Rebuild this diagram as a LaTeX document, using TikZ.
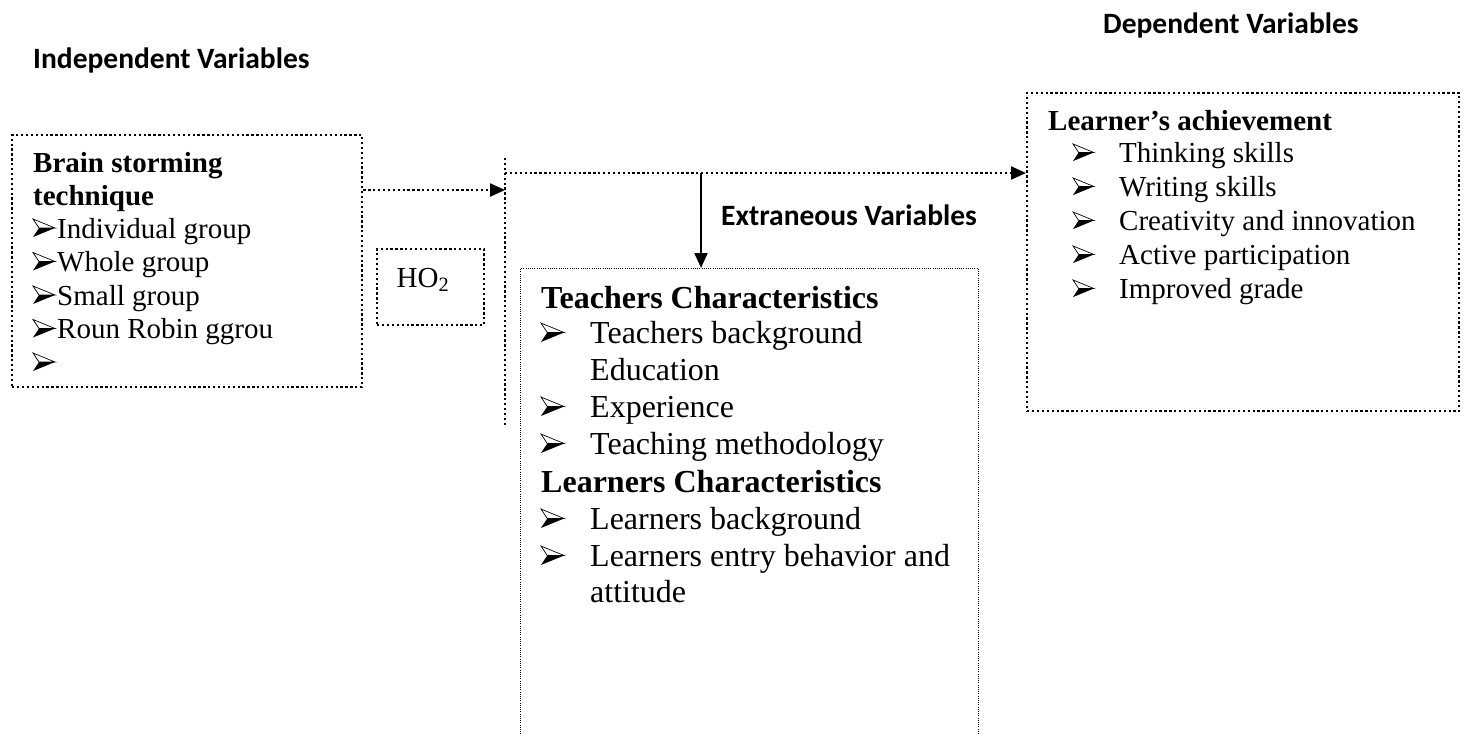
\documentclass[tikz,border=0pt]{standalone}
\usepackage{fontspec}
\setmainfont{Liberation Serif}
\newfontfamily\calib{Carlito}
\usetikzlibrary{arrows.meta}
\begin{document}
\begin{tikzpicture}[x=1pt,y=-1pt,
  thickdot/.style={line width=2.3pt, dash pattern=on 2.3pt off 2.6pt},
  finedot/.style={line width=1pt, dash pattern=on 1pt off 1.2pt},
  hdr/.style={font=\calib\bfseries\fontsize{29.5}{34}\selectfont, inner sep=0pt, anchor=base west},
  sm/.style={font=\fontsize{29}{34}\selectfont, inner sep=0pt, anchor=base west},
  big/.style={font=\fontsize{32}{37}\selectfont, inner sep=0pt, anchor=base west},
  boxnode/.style={draw, inner sep=0pt, anchor=north west},
  arr/.style={-{Triangle[length=15pt,width=13pt]}},
  arrowbullet/.pic={
    \fill (0,-1) -- (22,-10) -- (6,-10) -- cycle;
    \draw[line width=0.7pt, line join=miter] (0,-19) -- (22,-10) -- (6,-10) -- cycle;
  },
]
\useasboundingbox (0,0) rectangle (1465,734);
\clip (0,0) rectangle (1465,734);

% headings
\node[hdr] (indep) at (33,68) {Independent Variables};
\node[hdr] (dep) at (1103,33) {Dependent Variables};
\node[hdr] (extr) at (721,225) {Extraneous Variables};

% boxes
\node[boxnode, thickdot, minimum width=350pt, minimum height=252pt] (ivbox) at (11,134) {};
\node[boxnode, thickdot, minimum width=107pt, minimum height=76pt] (hobox) at (376,248) {};
\node[boxnode, thickdot, minimum width=432pt, minimum height=318pt] (dvbox) at (1026,92) {};
\node[boxnode, finedot, minimum width=458pt, minimum height=520pt] (evbox) at (520,268) {};

% HO2
\node[sm, anchor=base] (ho) at (423,287) {HO\textsubscript{2}};

% left box text
\node[sm, font=\fontsize{29}{34}\selectfont\bfseries] (bs1) at (33,172) {Brain storming};
\node[sm, font=\fontsize{29}{34}\selectfont\bfseries] (bs2) at (33,205) {technique};
\foreach \t [count=\i] in {Individual group, Whole group, Small group, Roun Robin ggrou, {}} {
  \pic at (33,{238+(\i-1)*33.5}) {arrowbullet};
  \node[sm] (lt\i) at (57,{238+(\i-1)*33.5}) {\t};
}

% right box text
\node[sm, font=\fontsize{29}{34}\selectfont\bfseries] (la) at (1048,130) {Learner’s achievement};
\foreach \t [count=\i] in {Thinking skills, Writing skills, Creativity and innovation, Active participation, Improved grade} {
  \pic[scale=0.95] at (1073,{162+(\i-1)*34}) {arrowbullet};
  \node[sm] (rt\i) at (1119,{162+(\i-1)*34}) {\t};
}

% extraneous box text
\node[big, font=\fontsize{32}{37}\selectfont\bfseries] (tc) at (541,308) {Teachers Characteristics};
\foreach \yy in {343,417,454,529,566} {
  \pic[scale=1.05] at (541,\yy) {arrowbullet};
}
\node[big] (et1) at (590,343) {Teachers background};
\node[big] (et2) at (590,380) {Education};
\node[big] (et3) at (590,417) {Experience};
\node[big] (et4) at (590,454) {Teaching methodology};
\node[big, font=\fontsize{32}{37}\selectfont\bfseries] (lc) at (541,492) {Learners Characteristics};
\node[big] (et5) at (590,529) {Learners background};
\node[big] (et6) at (590,566) {Learners entry behavior and};
\node[big] (et7) at (590,602) {attitude};

% connectors
\coordinate (vtop) at (505,158);
\coordinate (vbot) at (505,427);
\coordinate (hy) at (505,173);
\coordinate (ly) at (0,190);
\coordinate (dx) at (701,0);
\draw[thickdot] (vtop) -- (vbot);
\draw[thickdot, arr] (ivbox.east |- ly) -- (vtop |- ly);
\draw[thickdot, arr] (hy) -- (hy -| dvbox.west);
\draw[line width=2pt, arr] (dx |- hy) -- (dx |- evbox.north);
\end{tikzpicture}
\end{document}
